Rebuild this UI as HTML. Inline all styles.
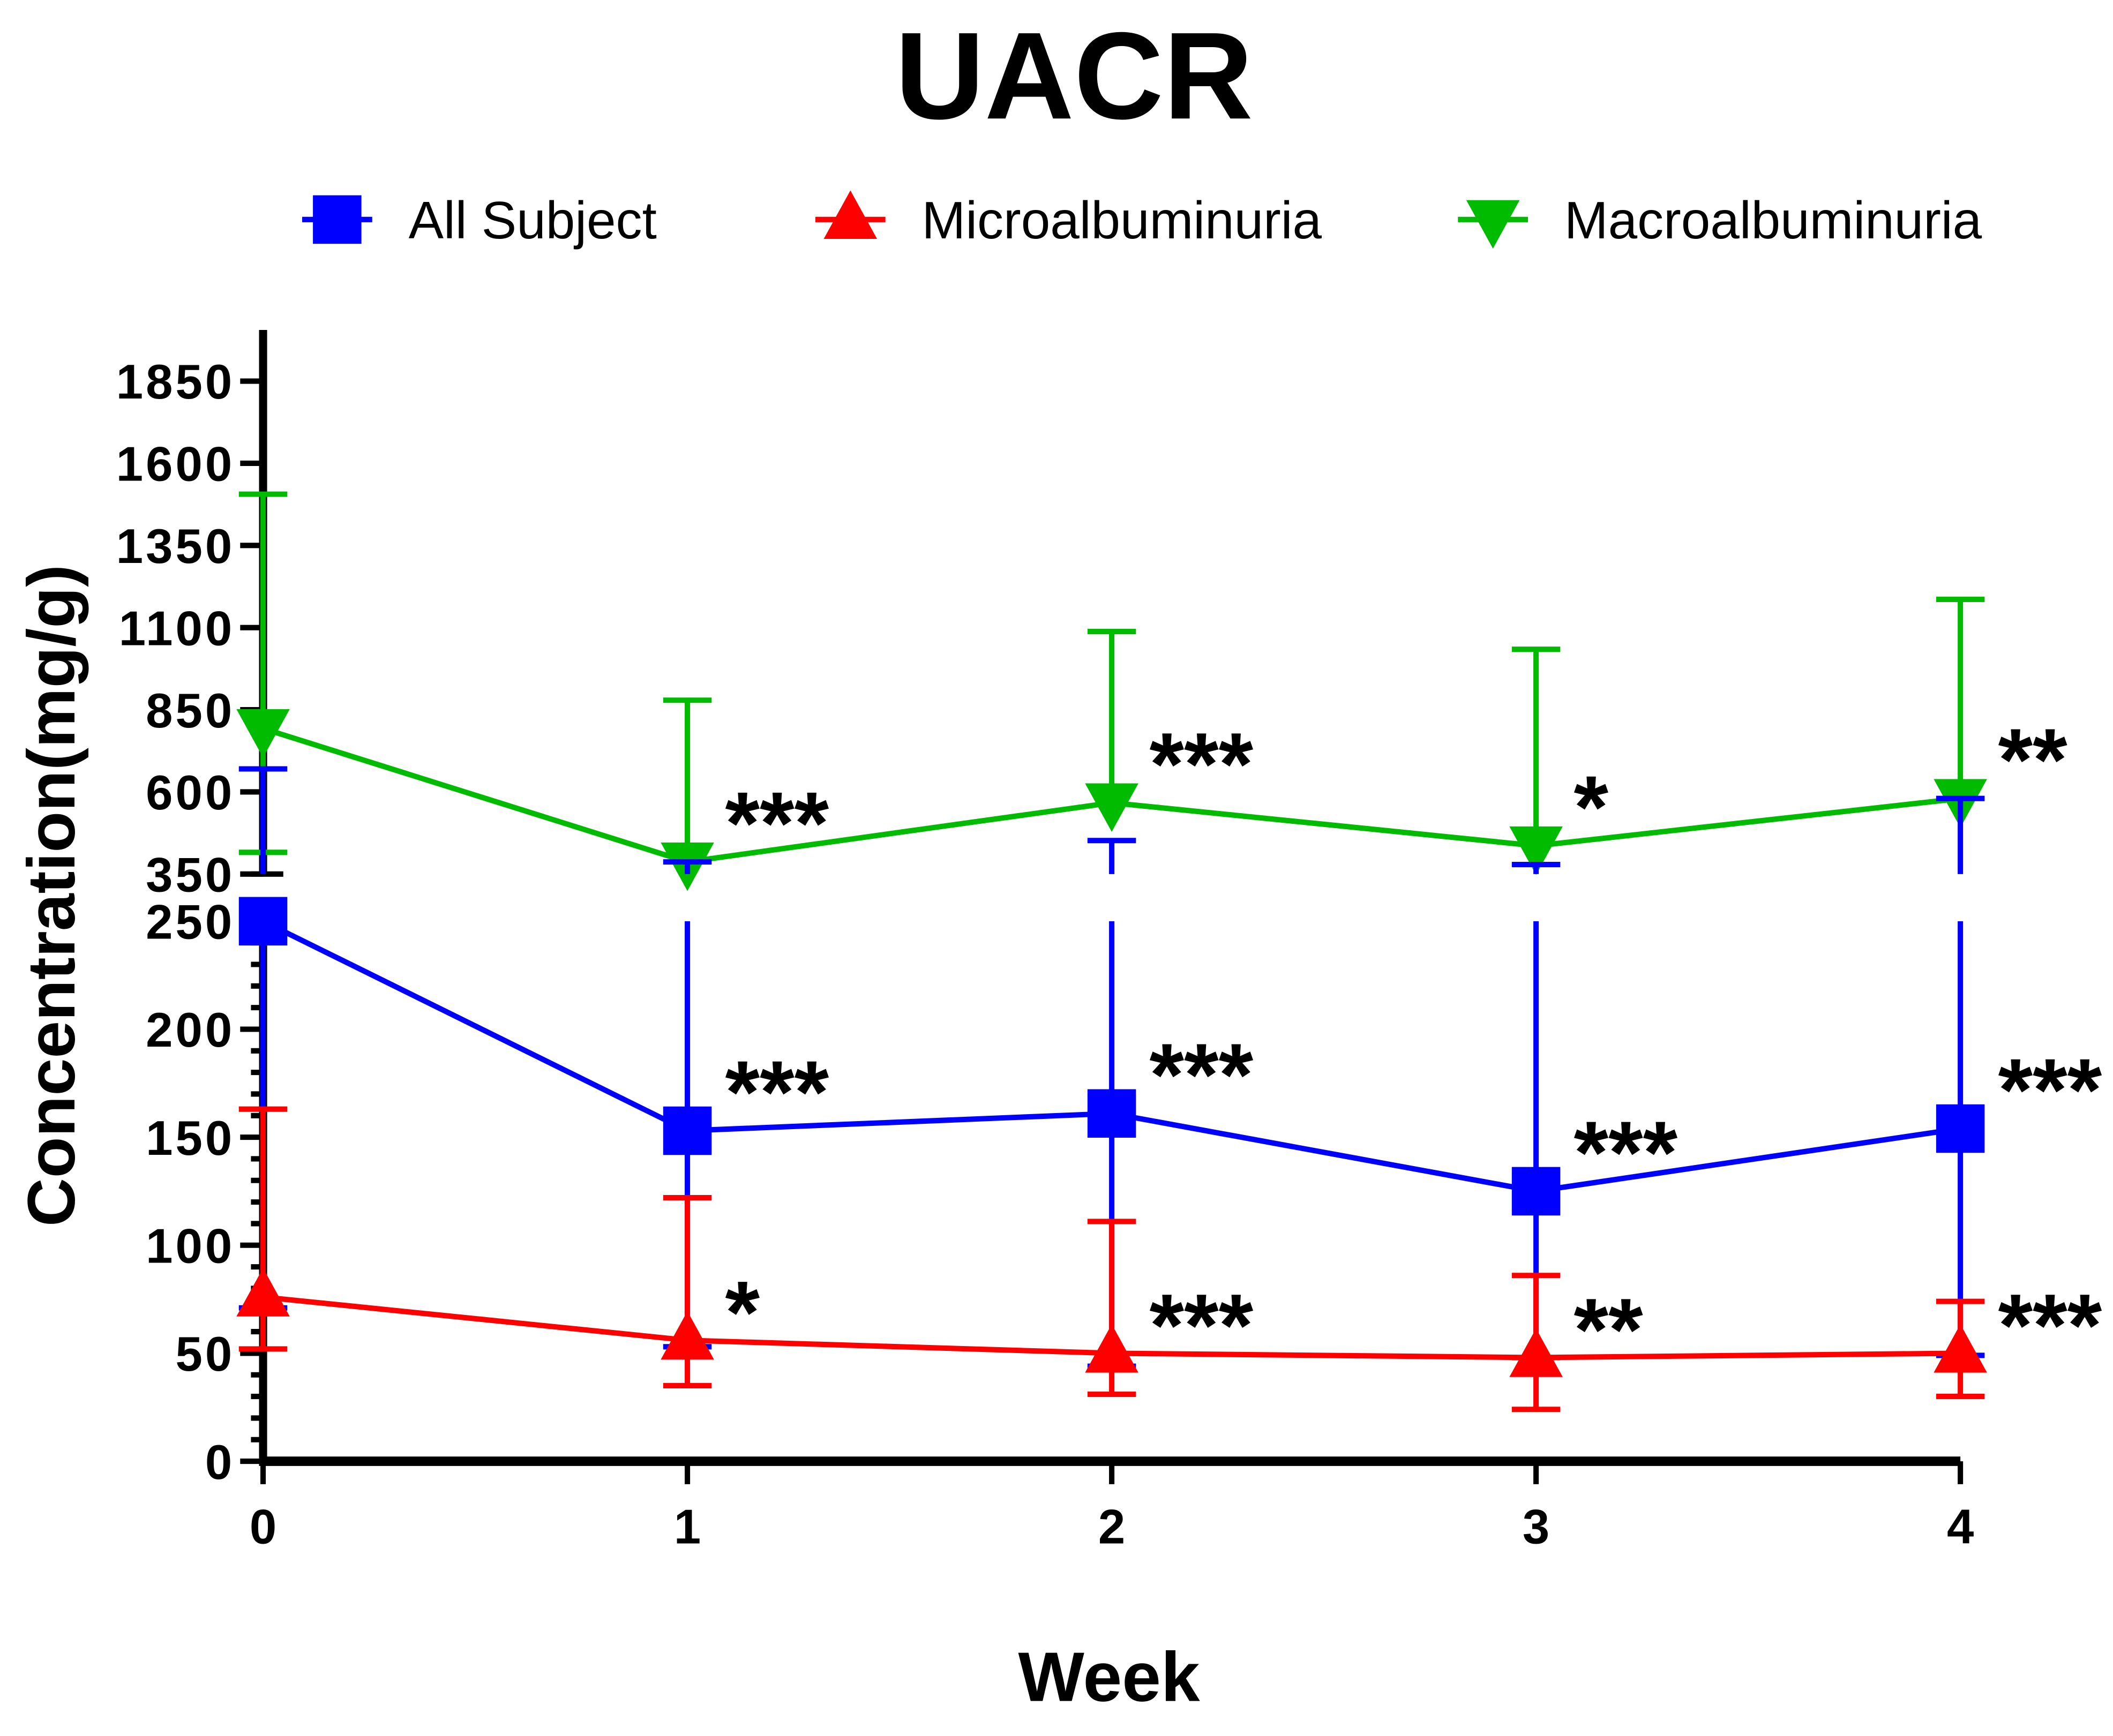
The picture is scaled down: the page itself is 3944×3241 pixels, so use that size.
<!DOCTYPE html>
<html><head><meta charset="utf-8"><style>
html,body{margin:0;padding:0;background:#fff;}
svg{display:block;}
text{font-family:"Liberation Sans",Arial,sans-serif;font-weight:bold;}
</style></head>
<body>
<svg id="chart" width="3944" height="3241" viewBox="0 0 1568 1289" xmlns="http://www.w3.org/2000/svg">
<text x="797" y="88" font-size="92" text-anchor="middle">UACR</text>
<g id="legend"></g>
<g id="axes"></g>
<g id="series"></g>
<text transform="translate(55,665) rotate(-90)" font-size="50" text-anchor="middle">Concentration(mg/g)</text>
<text x="823" y="1263" font-size="52" text-anchor="middle">Week</text>
</svg>
<script>
const weeks = [0,1,2,3,4];
const lowerTicks = [0,50,100,150,200,250];
const upperTicks = [350,600,850,1100,1350,1600,1850];
const allMean = [252,153,161,125,154];
const allHi = [670,387,452,379,580];
const allLo = [71,53,44,48,49];
const microMean = [76,56,50,48,50];
const microHi = [163,122,111,86,74];
const microLo = [52,35,31,24,30];
const macroMean = [793,387,567,436,580];
const macroHi = [1506,879,1088,1034,1186];
const macroLo = [416,387,567,436,580];
const macroStars = ["","***","***","*","**"];
const allStars = ["","***","***","***","***"];
const microStars = ["","*","***","**","***"];

const NS="http://www.w3.org/2000/svg";
function x(w){return 195+w*315;}
function yLow(v){return 1085-v*(401/250);}
function yUp(v){return 649-(v-350)*(61/250);}
function y(v){return v<=250?yLow(v):(v>=350?yUp(v):684);}
function mk(parent,tag,attrs){const e=document.createElementNS(NS,tag);for(const k in attrs)e.setAttribute(k,attrs[k]);parent.appendChild(e);return e;}
const axes=document.getElementById('axes');
const ser=document.getElementById('series');
const leg=document.getElementById('legend');

let e;
e=mk(axes,'line',{x1:195,y1:684,x2:195,y2:1088,stroke:'#000','stroke-width':6});


e=mk(axes,'line',{x1:195,y1:245,x2:195,y2:649,stroke:'#000','stroke-width':6});


e=mk(axes,'line',{x1:186,y1:649,x2:210,y2:649,stroke:'#000','stroke-width':4});


e=mk(axes,'line',{x1:192,y1:1085,x2:1455,y2:1085,stroke:'#000','stroke-width':7});


for(let v=10;v<250;v+=10){if(v%50===0)continue;
 e=mk(axes,'line',{x1:186,y1:yLow(v),x2:195,y2:yLow(v),stroke:'#000','stroke-width':4});
 
 }
lowerTicks.concat(upperTicks).forEach(v=>{
 const yy=y(v);
 e=mk(axes,'line',{x1:178,y1:yy,x2:195,y2:yy,stroke:'#000','stroke-width':4});
 
 
 e=mk(axes,'text',{x:174,y:yy+13,'font-size':36,'text-anchor':'end','letter-spacing':2});
 e.textContent=v;
 
 
});
weeks.forEach(w=>{
 e=mk(axes,'line',{x1:x(w),y1:1085,x2:x(w),y2:1102,stroke:'#000','stroke-width':4});
 
 
 e=mk(axes,'text',{x:x(w),y:1146,'font-size':36,'text-anchor':'middle'});
 e.textContent=w;
 
 
});

function vseg(g,xx,a,b,color){
 const segs=[];
 if(a<250)segs.push([a,Math.min(b,250)]);
 if(b>350)segs.push([Math.max(a,350),b]);
 segs.forEach(s=>{const l=mk(g,'line',{x1:xx,y1:y(s[0]),x2:xx,y2:y(s[1]),stroke:color,'stroke-width':4});
  
  });
}
function cap(g,xx,v,color){
 if(v>250&&v<=350)return;
 const l=mk(g,'line',{x1:xx-18,y1:y(v),x2:xx+18,y2:y(v),stroke:color,'stroke-width':4});
 
 
}
function marker(g,type,cx,cy,color,s){
 let m;
 if(type==='square')m=mk(g,'rect',{x:cx-s/2,y:cy-s/2,width:s,height:s,fill:color});
 else if(type==='up')m=mk(g,'polygon',{points:`${cx},${cy-s*0.6} ${cx-s*0.55},${cy+s*0.4} ${cx+s*0.55},${cy+s*0.4}`,fill:color});
 else m=mk(g,'polygon',{points:`${cx},${cy+s*0.6} ${cx-s*0.55},${cy-s*0.4} ${cx+s*0.55},${cy-s*0.4}`,fill:color});
 
 
}
function series(name,mean,hi,lo,color,type,stars,off){
 const g=mk(ser,'g',{});
 
 
 weeks.forEach((w,i)=>{vseg(g,x(w),lo[i],hi[i],color);cap(g,x(w),hi[i],color);if(lo[i]<mean[i])cap(g,x(w),lo[i],color);});
 const p=mk(g,'polyline',{points:weeks.map((w,i)=>x(w)+','+y(mean[i])).join(' '),fill:'none',stroke:color,'stroke-width':4});
 
 
 weeks.forEach((w,i)=>marker(g,type,x(w),y(mean[i]),color,36));
 weeks.forEach((w,i)=>{if(!stars[i])return;
  const t=mk(g,'text',{x:x(w)+28,y:y(mean[i])-off+36,'font-size':66});
  t.textContent=stars[i];
  
  });
}
series('macro-series',macroMean,macroHi,macroLo,'#00bb00','down',macroStars,42);
series('all-subject-series',allMean,allHi,allLo,'#0000ff','square',allStars,42);
series('micro-series',microMean,microHi,microLo,'#ff0000','up',microStars,34);

const legItems=[["All Subject",'#0000ff','square',250],["Microalbuminuria",'#ff0000','up',631],["Macroalbuminuria",'#00bb00','down',1108]];
legItems.forEach(it=>{
 const g=mk(leg,'g',{});
 
 
 const l=mk(g,'line',{x1:it[3]-26,y1:163,x2:it[3]+26,y2:163,stroke:it[1],'stroke-width':4});
 
 
 marker(g,it[2],it[3],163,it[1],36);
 const t=mk(g,'text',{x:it[3]+53,y:177,'font-size':39});
 t.style.fontWeight='normal';
 t.textContent=it[0];
 
 
});
</script>
</body></html>
